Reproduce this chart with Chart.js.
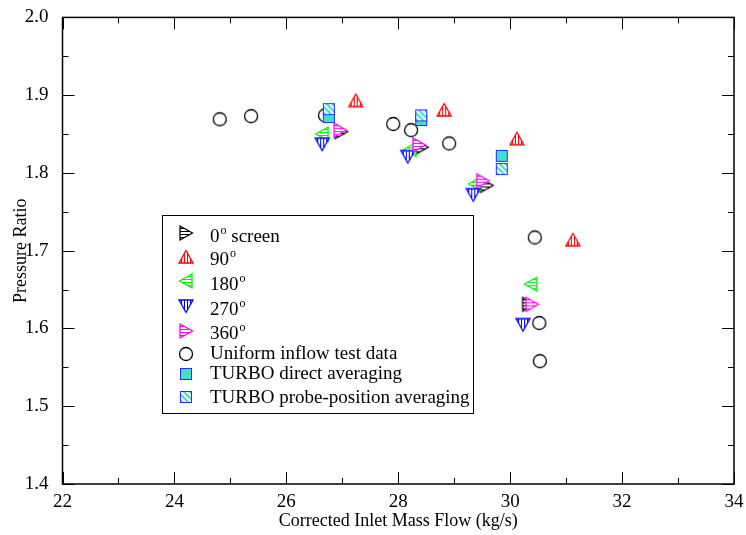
<!DOCTYPE html>
<html>
<head>
<meta charset="utf-8">
<script src="https://cdn.jsdelivr.net/npm/chart.js@4.4.0/dist/chart.umd.min.js"></script>
<style>
  html, body { margin: 0; padding: 0; background: #fff; }
  #chart { display: block; }
</style>
</head>
<body>
<canvas id="chart" width="746" height="535"></canvas>
<script>
// values
const screen0X = [26.98, 28.42, 29.58, 30.33];
const screen0Y = [1.853, 1.833, 1.784, 1.631];
const deg90X = [27.24, 28.82, 30.12, 31.12];
const deg90Y = [1.893, 1.881, 1.844, 1.714];
const deg180X = [26.64, 28.21, 29.37, 30.37];
const deg180Y = [1.850, 1.830, 1.786, 1.657];
const deg270X = [26.64, 28.17, 29.34, 30.23];
const deg270Y = [1.837, 1.821, 1.772, 1.605];
const deg360X = [26.96, 28.37, 29.51, 30.39];
const deg360Y = [1.855, 1.836, 1.790, 1.631];
const uniformX = [24.81, 25.37, 26.69, 27.91, 28.23, 28.91, 30.44, 30.52, 30.53];
const uniformY = [1.869, 1.873, 1.874, 1.863, 1.855, 1.838, 1.717, 1.607, 1.558];
const directX = [26.76, 28.41, 29.85];
const directY = [1.872, 1.868, 1.822];
const probeX = [26.76, 28.41, 29.85];
const probeY = [1.882, 1.874, 1.805];

const xTicks = [22, 24, 26, 28, 30, 32, 34];
const xMinorTicks = [23, 25, 27, 29, 31, 33];
const yTicks = [1.4, 1.5, 1.6, 1.7, 1.8, 1.9, 2.0];
const yMinorTicks = [1.45, 1.55, 1.65, 1.75, 1.85, 1.95];

// legend labels: main text, superscript, rest
const seriesLabels = [
    ['0', 'o', ' screen'],
    ['90', 'o', ''],
    ['180', 'o', ''],
    ['270', 'o', ''],
    ['360', 'o', ''],
    ['Uniform inflow test data', '', ''],
    ['TURBO direct averaging', '', ''],
    ['TURBO probe-position averaging', '', '']
];

const FONT = "'Liberation Serif', 'Times New Roman', serif";
Chart.defaults.font.family = FONT;
Chart.defaults.color = '#000';

function makeMarker(shape, color) {
    const c = document.createElement('canvas');
    c.width = 18;
    c.height = 18;
    const g = c.getContext('2d');
    const cx = 9, cy = 9;

    if (shape === 'circle') {
        g.beginPath();
        g.arc(cx, cy, 6.5, 0, Math.PI * 2);
        g.strokeStyle = color;
        g.lineWidth = 1.3;
        g.stroke();
        return c;
    }

    if (shape === 'square' || shape === 'hatchsquare') {
        g.save();
        g.beginPath();
        g.rect(3, 3, 12, 12);
        g.clip();
        g.fillStyle = '#40e0d0';
        g.fillRect(3, 3, 12, 12);
        if (shape === 'hatchsquare') {
            g.strokeStyle = '#fff';
            g.lineWidth = 2;
            for (let k = -18; k < 36; k += 6) {
                g.beginPath();
                g.moveTo(k, 0);
                g.lineTo(k + 18, 18);
                g.stroke();
            }
        }
        g.restore();
        g.strokeStyle = color;
        g.lineWidth = 1;
        g.strokeRect(3.5, 3.5, 11, 11);
        return c;
    }

    g.beginPath();
    if (shape === 'up') {
        g.moveTo(cx, cy - 6.5); g.lineTo(cx + 7, cy + 6); g.lineTo(cx - 7, cy + 6);
    } else if (shape === 'down') {
        g.moveTo(cx, cy + 6.5); g.lineTo(cx + 7, cy - 6); g.lineTo(cx - 7, cy - 6);
    } else if (shape === 'left') {
        g.moveTo(cx - 6.5, cy); g.lineTo(cx + 6, cy - 7); g.lineTo(cx + 6, cy + 7);
    } else {
        g.moveTo(cx + 6.5, cy); g.lineTo(cx - 6, cy - 7); g.lineTo(cx - 6, cy + 7);
    }
    g.closePath();
    g.save();
    g.clip();
    g.fillStyle = '#fff';
    g.fillRect(0, 0, 18, 18);
    g.fillStyle = color;
    for (let p = 1; p < 18; p += 3) {
        if (shape === 'up' || shape === 'down') g.fillRect(p, 0, 1, 18);
        else g.fillRect(0, p, 18, 1);
    }
    g.restore();
    g.strokeStyle = color;
    g.lineWidth = 1.3;
    g.stroke();
    return c;
}

const markers = [
    makeMarker('right', '#000'),
    makeMarker('up', '#ff0000'),
    makeMarker('left', '#00ee00'),
    makeMarker('down', '#0000ff'),
    makeMarker('right', '#ff00ff'),
    makeMarker('circle', '#000'),
    makeMarker('square', '#2a2aff'),
    makeMarker('hatchsquare', '#2a2aff')
];

function zip(xs, ys) {
    return xs.map((x, i) => ({ x: x, y: ys[i] }));
}

function series(label, xs, ys, marker, order) {
    return {
        label: label,
        data: zip(xs, ys),
        pointStyle: marker,
        pointRadius: 7,
        showLine: false,
        order: order
    };
}

// frame and inward ticks on all four sides
const framePlugin = {
    id: 'frameTicks',
    beforeDatasetsDraw: (chart) => {
        const ctx = chart.ctx;
        const a = chart.chartArea;
        const xs = chart.scales.x, ys = chart.scales.y;
        ctx.save();
        ctx.strokeStyle = '#000';
        ctx.lineWidth = 1.5;
        ctx.strokeRect(a.left, a.top, a.right - a.left, a.bottom - a.top);
        ctx.lineWidth = 1;
        const tick = (x1, y1, x2, y2) => {
            ctx.beginPath();
            ctx.moveTo(x1, y1);
            ctx.lineTo(x2, y2);
            ctx.stroke();
        };
        xTicks.concat(xMinorTicks).forEach(v => {
            const len = xTicks.includes(v) ? 12 : 6;
            const px = Math.round(xs.getPixelForValue(v)) + 0.5;
            tick(px, a.bottom, px, a.bottom - len);
            tick(px, a.top, px, a.top + len);
        });
        yTicks.concat(yMinorTicks).forEach(v => {
            const len = yTicks.includes(v) ? 12 : 6;
            const py = Math.round(ys.getPixelForValue(v)) + 0.5;
            tick(a.left, py, a.left + len, py);
            tick(a.right, py, a.right - len, py);
        });
        ctx.restore();
    }
};

// boxed legend inside the plot, with superscript degree marks
const legendPlugin = {
    id: 'boxLegend',
    afterDraw: (chart) => {
        const ctx = chart.ctx;
        const markerY = [233, 257, 281, 306, 331, 354, 374, 397];
        const baseY = [242, 265, 290, 315, 339, 359, 379, 403];
        ctx.save();
        ctx.fillStyle = '#fff';
        ctx.fillRect(163, 216, 310, 197);
        ctx.strokeStyle = '#000';
        ctx.lineWidth = 1;
        ctx.strokeRect(162.5, 215.5, 311, 198);
        ctx.fillStyle = '#000';
        ctx.textBaseline = 'alphabetic';
        seriesLabels.forEach((lab, i) => {
            const m = markers[i];
            ctx.drawImage(m, 186 - m.width / 2, markerY[i] - m.height / 2);
            let x = 210;
            ctx.font = '19px ' + FONT;
            ctx.fillText(lab[0], x, baseY[i]);
            x += ctx.measureText(lab[0]).width + 1;
            if (lab[1]) {
                ctx.font = '12px ' + FONT;
                ctx.fillText(lab[1], x, baseY[i] - 8);
                x += ctx.measureText(lab[1]).width;
            }
            if (lab[2]) {
                ctx.font = '19px ' + FONT;
                ctx.fillText(lab[2], x, baseY[i]);
            }
        });
        ctx.restore();
    }
};

new Chart(document.getElementById('chart').getContext('2d'), {
    type: 'scatter',
    data: {
        datasets: [
            series('0 screen', screen0X, screen0Y, markers[0], 8),
            series('90', deg90X, deg90Y, markers[1], 7),
            series('180', deg180X, deg180Y, markers[2], 6),
            series('270', deg270X, deg270Y, markers[3], 5),
            series('360', deg360X, deg360Y, markers[4], 4),
            series('Uniform inflow test data', uniformX, uniformY, markers[5], 3),
            series('TURBO direct averaging', directX, directY, markers[6], 2),
            series('TURBO probe-position averaging', probeX, probeY, markers[7], 1)
        ]
    },
    plugins: [framePlugin, legendPlugin],
    options: {
        responsive: false,
        animation: false,
        devicePixelRatio: 1,
        layout: { padding: { top: 15, right: 12, left: 0, bottom: 0 } },
        plugins: {
            legend: { display: false },
            tooltip: { enabled: false }
        },
        scales: {
            x: {
                type: 'linear',
                min: 22,
                max: 34,
                grid: { display: false },
                border: { display: false },
                afterBuildTicks: (s) => { s.ticks = xTicks.map(v => ({ value: v })); },
                afterFit: (s) => { s.height = 51; },
                ticks: {
                    font: { size: 19, family: FONT },
                    padding: -1,
                    maxRotation: 0,
                    callback: (v) => String(v)
                },
                title: {
                    display: true,
                    text: 'Corrected Inlet Mass Flow (kg/s)',
                    font: { size: 18, family: FONT },
                    padding: { top: 0, bottom: 3 }
                }
            },
            y: {
                type: 'linear',
                min: 1.4,
                max: 2.0,
                grid: { display: false },
                border: { display: false },
                afterBuildTicks: (s) => { s.ticks = yTicks.map(v => ({ value: v })); },
                afterFit: (s) => { s.width = 62.5; },
                ticks: {
                    font: { size: 19, family: FONT },
                    padding: 6,
                    callback: (v) => Number(v).toFixed(1)
                },
                title: {
                    display: true,
                    text: 'Pressure Ratio',
                    font: { size: 18, family: FONT },
                    padding: { top: 10, bottom: 0 }
                }
            }
        }
    }
});
</script>
</body>
</html>
